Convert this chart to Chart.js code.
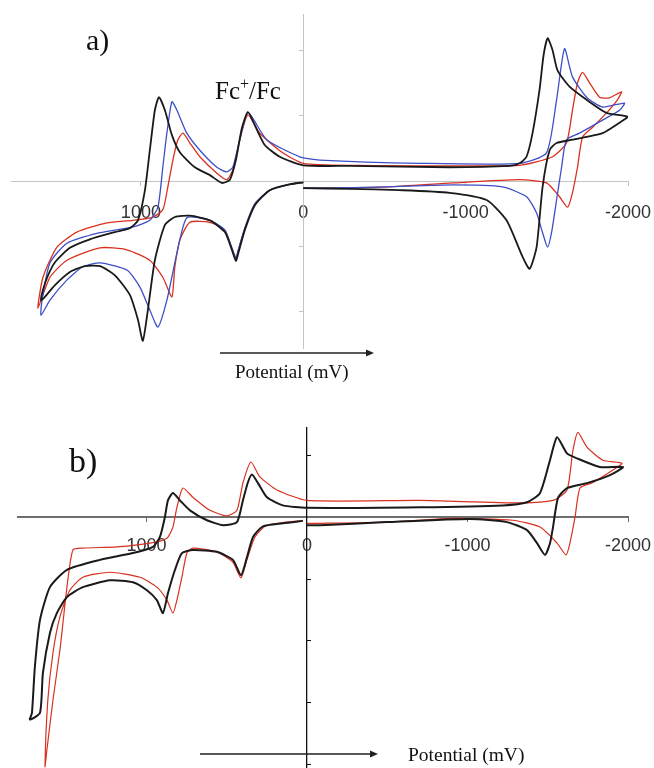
<!DOCTYPE html>
<html>
<head>
<meta charset="utf-8">
<script src="https://cdn.jsdelivr.net/npm/chart.js@4.4.1/dist/chart.umd.min.js"></script>
<style>
  html, body { margin: 0; padding: 0; background: #fff; overflow: hidden; }
  canvas { position: absolute; left: 0; }
  #chartA { top: 0; }
  #chartB { top: 400px; }
</style>
</head>
<body>
<canvas id="chartA" width="654" height="395"></canvas>
<canvas id="chartB" width="654" height="380"></canvas>
<script>
// potential in mV, current in arbitrary units (one y tick = 1)
const xTicks = [-2000, -1000, 0, 1000];
const yTicksA = [-2, -1, 0, 1, 2];
const yTicksB = [-4, -3, -2, -1, 0, 1];

// panel a) black
const aBlackE = [0, 83, 206, 298, 360, 403, 415, 440, 483, 575, 698, 791, 852, 914, 957, 988, 1018, 1068, 1160, 1252, 1345, 1437, 1529, 1591, 1615,
  1603, 1572, 1529, 1437, 1314, 1160, 1068, 1018, 975, 945, 914, 889, 852, 809, 760, 668, 575, 501, 452, 415, 378, 341, 298, 237, 145, 0,
  -286, -901, -1271, -1332, -1375, -1412, -1455, -1480, -1505, -1535, -1566, -1640, -1745, -1868, -1997,
  -1948, -1843, -1658, -1560, -1517, -1474, -1437, -1394, -1351, -1252, -1129, -901, -594, -286, 0];
const aBlackI = [-0.02, -0.05, -0.14, -0.37, -0.75, -1.13, -1.22, -1.05, -0.78, -0.60, -0.53, -0.55, -0.67, -1.21, -1.97, -2.44, -2.12, -1.74, -1.44, -1.30, -1.30, -1.39, -1.59, -1.77, -1.82,
  -1.66, -1.44, -1.24, -1.02, -0.89, -0.78, -0.72, -0.60, -0.14, 0.47, 1.08, 1.28, 1.08, 0.70, 0.44, 0.21, 0.09, -0.03, 0.02, 0.32, 0.81, 1.05, 0.85, 0.55, 0.37, 0.24,
  0.23, 0.21, 0.23, 0.27, 0.37, 0.73, 1.39, 1.92, 2.18, 2.00, 1.69, 1.44, 1.24, 1.04, 0.98,
  0.89, 0.73, 0.63, 0.58, 0.47, -0.09, -1.01, -1.34, -1.16, -0.60, -0.29, -0.18, -0.14, -0.12, -0.11];

// panel a) blue
const aBlueE = [0, 83, 206, 298, 360, 403, 415, 440, 483, 575, 717, 778, 840, 895, 945, 1006, 1086, 1252, 1357, 1455, 1560, 1615,
  1609, 1560, 1455, 1252, 1049, 945, 895, 865, 840, 809, 778, 717, 637, 532, 471, 434, 391, 341, 225, 22,
  -102, -717, -1332, -1498, -1560, -1609, -1658, -1745, -1843, -1978,
  -1948, -1843, -1701, -1621, -1591, -1560, -1529, -1505, -1474, -1437, -1375, -1227, -920, -514, -102, 0];
const aBlueI = [-0.02, -0.05, -0.14, -0.35, -0.72, -1.08, -1.18, -1.02, -0.75, -0.60, -0.56, -1.10, -1.82, -2.23, -1.97, -1.62, -1.36, -1.25, -1.31, -1.51, -1.82, -2.05,
  -1.82, -1.25, -0.95, -0.79, -0.70, -0.60, -0.40, 0.21, 0.73, 1.21, 1.08, 0.73, 0.47, 0.21, 0.14, 0.21, 0.63, 1.05, 0.63, 0.37,
  0.32, 0.27, 0.27, 0.43, 1.24, 2.02, 1.59, 1.28, 1.13, 1.19,
  1.08, 0.93, 0.73, 0.63, 0.21, -0.29, -0.79, -1.01, -0.79, -0.49, -0.24, -0.09, -0.06, -0.09, -0.11, -0.11];

// panel a) red
const aRedE = [0, 83, 206, 298, 360, 403, 415, 440, 483, 575, 698, 760, 791, 809, 865, 945, 1086, 1252, 1455, 1560, 1634,
  1603, 1517, 1394, 1209, 1049, 926, 865, 834, 803, 772, 741, 698, 637, 532, 471, 434, 391, 341, 268, 126, 0,
  -286, -1332, -1535, -1621, -1658, -1689, -1720, -1763, -1825, -1886, -1960,
  -1935, -1868, -1782, -1720, -1689, -1658, -1628, -1578, -1498, -1332, -920, -514, -102, 0];
const aRedI = [-0.02, -0.05, -0.14, -0.35, -0.72, -1.08, -1.18, -1.02, -0.75, -0.63, -0.63, -0.90, -1.31, -1.77, -1.47, -1.21, -1.05, -1.02, -1.21, -1.47, -1.94,
  -1.47, -1.01, -0.78, -0.64, -0.60, -0.55, -0.44, -0.09, 0.32, 0.63, 0.73, 0.58, 0.37, 0.12, 0.02, 0.17, 0.63, 1.01, 0.73, 0.43, 0.27,
  0.24, 0.24, 0.37, 0.58, 1.08, 1.50, 1.66, 1.50, 1.28, 1.27, 1.36,
  1.24, 1.04, 0.82, 0.67, 0.21, -0.18, -0.40, -0.24, -0.03, 0.02, -0.03, -0.09, -0.11, -0.11];

// panel b) black
const bBlackE = [25, 150, 274, 336, 374, 411, 461, 561, 710, 779, 822, 866, 897, 935, 997, 1084, 1227, 1396, 1495, 1558, 1601, 1645, 1663, 1726,
  1713, 1695, 1663, 1601, 1495, 1290, 1084, 959, 916, 885, 866, 835, 791, 729, 623, 523, 436, 399, 368, 343, 305, 249, 150, 0,
  -704, -1221, -1371, -1452, -1514, -1558, -1620, -1682, -1825, -1969,
  -1888, -1744, -1620, -1564, -1533, -1514, -1483, -1433, -1371, -1246, -1015, -498, -81, 0];
const bBlackI = [-0.06, -0.10, -0.15, -0.32, -0.65, -0.94, -0.69, -0.56, -0.53, -0.58, -0.85, -1.23, -1.55, -1.34, -1.18, -1.05, -1.02, -1.13, -1.29, -1.55, -1.87, -2.52, -3.16, -3.27,
  -3.16, -2.42, -1.66, -1.13, -0.85, -0.69, -0.58, -0.48, -0.32, 0, 0.27, 0.39, 0.27, 0.11, -0.05, -0.13, -0.08, 0.27, 0.56, 0.69, 0.55, 0.32, 0.19, 0.15,
  0.16, 0.19, 0.24, 0.39, 0.92, 1.29, 1.03, 0.95, 0.81, 0.81,
  0.68, 0.55, 0.47, 0.31, -0.16, -0.42, -0.61, -0.42, -0.21, -0.08, -0.03, -0.08, -0.13, -0.13];

// panel b) red
const bRedE = [25, 249, 324, 374, 411, 461, 561, 710, 748, 779, 810, 835, 872, 935, 1040, 1227, 1396, 1477, 1539, 1582, 1614, 1632,
  1620, 1582, 1539, 1495, 1458, 1396, 1184, 978, 872, 835, 810, 773, 710, 604, 498, 436, 399, 349, 293, 187, 0,
  -704, -1327, -1533, -1620, -1657, -1688, -1744, -1844, -1962,
  -1906, -1782, -1701, -1670, -1638, -1614, -1558, -1452, -1283, -910, -498, -81, 0];
const bRedI = [-0.05, -0.13, -0.32, -0.69, -0.98, -0.73, -0.56, -0.50, -0.58, -0.97, -1.34, -1.55, -1.34, -1.13, -0.97, -0.89, -0.97, -1.18, -1.61, -2.19, -2.95, -4.03,
  -3.76, -2.95, -2.15, -1.13, -0.53, -0.50, -0.48, -0.42, -0.34, -0.16, 0.16, 0.47, 0.32, 0.11, 0.02, 0.11, 0.55, 0.89, 0.65, 0.44, 0.27,
  0.27, 0.23, 0.27, 0.44, 1.08, 1.37, 1.13, 0.92, 0.87,
  0.76, 0.56, 0.47, 0, -0.42, -0.61, -0.42, -0.16, -0.05, -0.02, -0.08, -0.10, -0.10];

const BLACK = '#1a1a1a', BLUE = '#3b4fc6', RED = '#d8311f';
const SERIF = '"Liberation Serif", "Times New Roman", serif';

function pts(xs, ys) {
  return xs.map((x, i) => ({ x: x, y: ys[i] }));
}

function line(label, xs, ys, color, width) {
  return {
    label: label,
    data: pts(xs, ys),
    showLine: true,
    borderColor: color,
    borderWidth: width,
    pointRadius: 0,
    tension: 0.2,
    fill: false
  };
}

function arrow(ctx, x1, x2, y) {
  ctx.strokeStyle = '#222';
  ctx.fillStyle = '#222';
  ctx.lineWidth = 1.3;
  ctx.beginPath();
  ctx.moveTo(x1, y);
  ctx.lineTo(x2 - 6, y);
  ctx.stroke();
  ctx.beginPath();
  ctx.moveTo(x2, y);
  ctx.lineTo(x2 - 8, y - 3.5);
  ctx.lineTo(x2 - 8, y + 3.5);
  ctx.closePath();
  ctx.fill();
}

const textsA = {
  id: 'textsA',
  afterDraw(chart) {
    const ctx = chart.ctx;
    ctx.save();
    ctx.fillStyle = '#111';
    ctx.textBaseline = 'alphabetic';
    ctx.font = '30px ' + SERIF;
    ctx.fillText('a)', 86, 50);
    ctx.font = '25px ' + SERIF;
    let x = 215;
    ctx.fillText('Fc', x, 99);
    x += ctx.measureText('Fc').width;
    ctx.font = '16px ' + SERIF;
    ctx.fillText('+', x, 89);
    x += ctx.measureText('+').width;
    ctx.font = '25px ' + SERIF;
    ctx.fillText('/Fc', x, 99);
    arrow(ctx, 220, 374, 353);
    ctx.fillStyle = '#111';
    ctx.font = '19px ' + SERIF;
    ctx.fillText('Potential (mV)', 235, 378);
    ctx.restore();
  }
};

const textsB = {
  id: 'textsB',
  afterDraw(chart) {
    const ctx = chart.ctx;
    ctx.save();
    ctx.fillStyle = '#111';
    ctx.font = '34px ' + SERIF;
    ctx.fillText('b)', 69, 72);
    arrow(ctx, 200, 378, 354);
    ctx.fillStyle = '#111';
    ctx.font = '19.5px ' + SERIF;
    ctx.fillText('Potential (mV)', 408, 361);
    ctx.restore();
  }
};

function makeChart(id, datasets, yMin, yMax, yTicks, pad, look, plugin) {
  new Chart(document.getElementById(id), {
    type: 'scatter',
    data: { datasets: datasets },
    plugins: [plugin],
    options: {
      responsive: false,
      animation: false,
      layout: { padding: pad },
      plugins: { legend: { display: false }, tooltip: { enabled: false } },
      scales: {
        x: {
          type: 'linear',
          reverse: true,
          min: -2000,
          max: 1800,
          position: { y: 0 },
          afterBuildTicks: s => { s.ticks = xTicks.map(v => ({ value: v })); },
          grid: { drawOnChartArea: false, drawTicks: true, tickLength: 4, color: look.xColor },
          border: { display: true, color: look.xColor, width: look.xWidth },
          ticks: {
            color: '#333',
            padding: look.tickPad,
            maxRotation: 0,
            font: { family: '"Liberation Sans", Arial, sans-serif', size: 18 },
            callback: v => String(v)
          }
        },
        y: {
          type: 'linear',
          min: yMin,
          max: yMax,
          position: { x: 0 },
          afterBuildTicks: s => { s.ticks = yTicks.map(v => ({ value: v })); },
          grid: { drawOnChartArea: false, drawTicks: true, tickLength: look.yTick, color: look.yColor },
          border: { display: true, color: look.yColor, width: look.yWidth },
          ticks: { display: false }
        }
      }
    }
  });
}

makeChart('chartA', [
  line('black', aBlackE, aBlackI, BLACK, 1.8),
  line('blue', aBlueE, aBlueI, BLUE, 1.3),
  line('red', aRedE, aRedI, RED, 1.3)
], -2.55, 2.55, yTicksA, { left: 11, right: 26, top: 14, bottom: 47 },
  { xColor: '#c4c4c4', xWidth: 1, yColor: '#c4c4c4', yWidth: 1, yTick: 4, tickPad: 17 }, textsA);

makeChart('chartB', [
  line('black', bBlackE, bBlackI, BLACK, 2),
  line('red', bRedE, bRedI, RED, 1.2)
], -4.1, 1.44, yTicksB, { left: 18, right: 26, top: 28, bottom: 9 },
  { xColor: '#6e6e6e', xWidth: 2, yColor: '#111', yWidth: 1.3, yTick: -5, tickPad: 14 }, textsB);
</script>
</body>
</html>
